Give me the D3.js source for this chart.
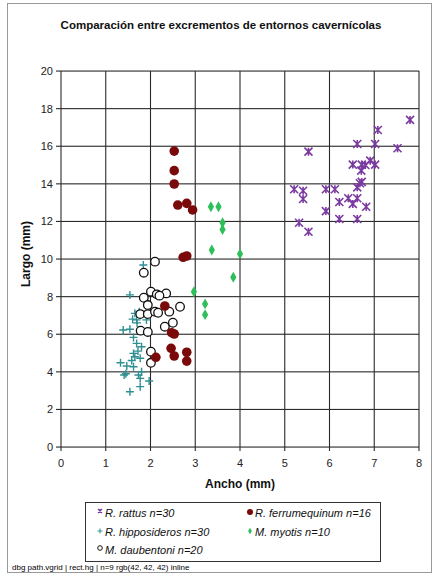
<!DOCTYPE html>
<html>
<head>
<meta charset="utf-8">
<script src="https://cdn.jsdelivr.net/npm/d3@7"></script>
<style>
body{margin:0;background:#fff;}
svg text{font-family:"Liberation Sans",Arial,sans-serif;}
</style>
</head>
<body>
<div id="chart"></div>
<script>
// ticks
var xTicks = [0,1,2,3,4,5,6,7,8];
var yTicks = [0,2,4,6,8,10,12,14,16,18,20];

// R. rattus n=30
var rattus = [
 [5.53,15.71],[6.62,16.12],[7.02,16.12],[7.52,15.89],[6.52,15.02],[6.72,15.02],
 [6.71,14.70],[6.91,15.23],[7.02,15.02],[7.08,16.86],[6.68,14.03],[6.62,13.81],
 [5.21,13.71],[5.41,13.63],[5.41,13.19],[5.92,13.71],[6.12,13.71],[6.22,13.03],
 [6.42,13.23],[6.62,13.23],[6.52,12.93],[6.82,12.78],[5.92,12.55],[6.22,12.13],
 [6.62,12.13],[5.32,11.93],[5.53,11.45],[7.80,17.40],[6.72,14.10],[6.80,15.00]
];
// R. ferrumequinum n=16
var ferrum = [
 [2.53,15.74],[2.53,14.70],[2.53,13.99],[2.61,12.87],[2.81,12.96],[2.94,12.61],
 [2.73,10.09],[2.81,10.16],[2.32,7.50],[2.47,6.08],[2.53,6.01],[2.46,5.25],
 [2.53,4.84],[2.81,5.04],[2.81,4.57],[2.12,4.77]
];
// M. myotis n=10
var myotis = [
 [3.35,12.78],[3.52,12.78],[3.61,11.93],[3.61,11.57],[3.37,10.48],
 [4.00,10.27],[3.85,9.03],[2.97,8.26],[3.22,7.61],[3.22,7.04]
];
// M. daubentoni n=20
var daub = [
 [2.10,9.86],[1.85,9.27],[2.01,8.26],[1.85,7.94],[2.14,8.12],[2.35,8.17],
 [1.94,7.55],[1.77,7.07],[1.94,7.07],[2.10,7.20],[2.17,7.14],[2.42,7.20],
 [2.66,7.46],[2.32,6.40],[2.50,6.61],[1.78,6.19],[1.94,6.12],[2.01,5.07],
 [2.01,4.48],[2.20,8.05]
];
// R. hipposideros n=30
var hippo = [
 [1.84,9.68],[1.54,8.09],[1.65,7.11],[1.75,7.20],[1.91,7.00],[1.69,6.76],
 [1.91,6.76],[1.39,6.22],[1.54,6.26],[1.62,5.83],[1.69,5.51],[1.80,5.33],
 [1.62,4.98],[1.65,4.80],[1.77,4.72],[1.33,4.48],[1.47,4.31],[1.62,4.27],
 [1.41,3.83],[1.73,3.83],[1.77,3.65],[1.97,3.51],[1.77,3.21],[1.54,2.94],
 [1.60,6.80],[1.70,6.60],[1.45,3.90],[1.58,4.60],[1.72,5.10],[1.80,4.00]
];

var legendNames = ["R. rattus n=30","R. ferrumequinum n=16","R. hipposideros n=30","M. myotis n=10","M. daubentoni n=20"];

var W = 438, H = 577;
var svg = d3.select("#chart").append("svg").attr("width",W).attr("height",H);

svg.append("rect").attr("x",7.5).attr("y",3.5).attr("width",424).attr("height",569)
 .attr("fill","#fff").attr("stroke","#999").attr("stroke-width",1);

var x = d3.scaleLinear().domain([0,8]).range([61,419]);
var y = d3.scaleLinear().domain([0,20]).range([447,71]);

// grid (vertical as paths, horizontal as thin rects), with the short tick marks
svg.selectAll("path.vgrid").data(xTicks).enter().append("path")
 .attr("class","vgrid")
 .attr("d",function(d){return "M"+x(d)+","+y(20)+"V"+(y(0)+4);})
 .attr("fill","none").attr("stroke","#2a2a2a").attr("stroke-width",1.1);
svg.selectAll("rect.hg").data(yTicks).enter().append("rect")
 .attr("class","hg").attr("x",x(0)-5).attr("width",x(8)-x(0)+5)
 .attr("y",function(d){return y(d)-0.5;}).attr("height",1.1).attr("fill","#2a2a2a");

// tick labels
svg.selectAll("text.xt").data(xTicks).enter().append("text")
 .attr("class","xt").attr("x",function(d){return x(d);}).attr("y",y(0)+20)
 .attr("text-anchor","middle").attr("font-size",11).attr("fill","#222")
 .text(function(d){return d;});
svg.selectAll("text.yt").data(yTicks).enter().append("text")
 .attr("class","yt").attr("x",x(0)-8).attr("y",function(d){return y(d)+4;})
 .attr("text-anchor","end").attr("font-size",11).attr("fill","#222")
 .text(function(d){return d;});

svg.append("text").attr("x",221).attr("y",29).attr("text-anchor","middle")
 .attr("font-size",11.5).attr("font-weight","bold").attr("fill","#111")
 .text("Comparación entre excrementos de entornos cavernícolas");
svg.append("text").attr("x",240).attr("y",488).attr("text-anchor","middle")
 .attr("font-size",12).attr("font-weight","bold").attr("fill","#111").text("Ancho (mm)");
svg.append("text").attr("transform","translate(30,254) rotate(-90)").attr("text-anchor","middle")
 .attr("font-size",12).attr("font-weight","bold").attr("fill","#111").text("Largo (mm)");

// marker shapes
function starPath(s){
  var h=s/2;
  return "M"+(-h)+","+(-h)+"L"+h+","+h+"M"+(-h)+","+h+"L"+h+","+(-h)+"M0,"+(-h)+"L0,"+h;
}
function plusPath(s){
  var h=s/2;
  return "M"+(-h)+",0L"+h+",0M0,"+(-h)+"L0,"+h;
}
var pts = svg.append("g");

pts.selectAll(".hip").data(hippo).enter().append("path")
 .attr("transform",d=>"translate("+x(d[0])+","+y(d[1])+")")
 .attr("d",plusPath(8)).attr("stroke","#2f8f92").attr("stroke-width",1.4).attr("fill","none");

pts.selectAll(".dau").data(daub).enter().append("circle")
 .attr("cx",d=>x(d[0])).attr("cy",d=>y(d[1])).attr("r",4.3)
 .attr("fill","#fff").attr("stroke","#111").attr("stroke-width",1.3);

pts.selectAll(".fer").data(ferrum).enter().append("circle")
 .attr("cx",d=>x(d[0])).attr("cy",d=>y(d[1])).attr("r",4.8)
 .attr("fill","#7a0a0a");

pts.selectAll(".myo").data(myotis).enter().append("path")
 .attr("transform",d=>"translate("+x(d[0])+","+y(d[1])+")")
 .attr("d",d3.symbol().type(d3.symbolDiamond).size(34)())
 .attr("fill","#2fbf5a");

pts.selectAll(".rat").data(rattus).enter().append("path")
 .attr("transform",d=>"translate("+x(d[0])+","+y(d[1])+")")
 .attr("d",starPath(8)).attr("stroke","#7a3aa0").attr("stroke-width",1.6).attr("fill","none");

// legend
svg.append("rect").attr("x",85.5).attr("y",502.5).attr("width",295).attr("height",59)
 .attr("fill","#fff").attr("stroke","#333").attr("stroke-width",1);
var legPos = [[100,513],[250,513],[100,532],[250,532],[100,550]];
var lg = svg.append("g");
lg.selectAll("text").data(legendNames).enter().append("text")
 .attr("x",(d,i)=>legPos[i][0]+5).attr("y",(d,i)=>legPos[i][1]+4)
 .attr("font-size",11).attr("font-style","italic").attr("fill","#111").text(d=>d);
lg.append("path").attr("transform","translate("+legPos[0][0]+","+(legPos[0][1]-2)+")")
 .attr("d",starPath(4)).attr("stroke","#7a3aa0").attr("stroke-width",1.2).attr("fill","none");
lg.append("circle").attr("cx",legPos[1][0]).attr("cy",legPos[1][1]-1).attr("r",3).attr("fill","#7a0a0a");
lg.append("path").attr("transform","translate("+legPos[2][0]+","+(legPos[2][1]-1)+")")
 .attr("d",plusPath(5)).attr("stroke","#2f8f92").attr("stroke-width",1).attr("fill","none");
lg.append("path").attr("transform","translate("+legPos[3][0]+","+(legPos[3][1]-1)+")")
 .attr("d",d3.symbol().type(d3.symbolDiamond).size(12)()).attr("fill","#2fbf5a");
lg.append("circle").attr("cx",legPos[4][0]).attr("cy",legPos[4][1]-2).attr("r",2.3)
 .attr("fill","#fff").attr("stroke","#111").attr("stroke-width",1);

// temporary diagnostic
var e1 = document.elementFromPoint(x(1), 200), e2 = document.elementFromPoint(300, y(10));
var vg = document.querySelector("path.vgrid");
svg.append("text").attr("x",12).attr("y",570).attr("font-size",8)
 .text("dbg "+(e1?e1.tagName+"."+e1.getAttribute("class"):"-")+" | "+(e2?e2.tagName+"."+e2.getAttribute("class"):"-")
   +" | n="+document.querySelectorAll("path.vgrid").length+" "+(vg?getComputedStyle(vg).stroke+" "+getComputedStyle(vg).display:""));
</script>
</body>
</html>
